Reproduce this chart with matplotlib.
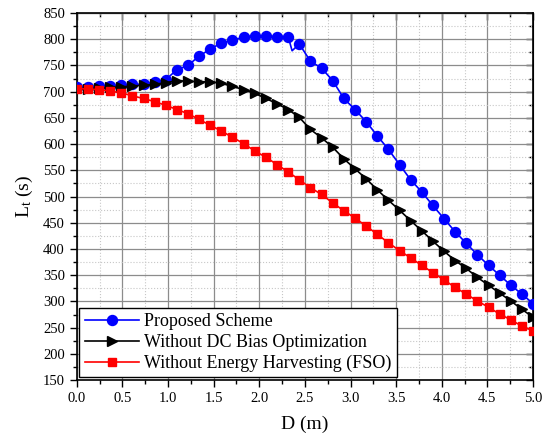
import matplotlib
matplotlib.use("Agg")
import matplotlib.pyplot as plt
from matplotlib.ticker import MultipleLocator

plt.rcParams["font.family"] = ["Liberation Serif", "DejaVu Serif"]
plt.rcParams["mathtext.fontset"] = "custom"
plt.rcParams["mathtext.rm"] = "Liberation Serif"
plt.rcParams["mathtext.it"] = "Liberation Serif:italic"

# distance D (m)
D = [0.000, 0.122, 0.244, 0.366, 0.488, 0.610, 0.732, 0.854, 0.976, 1.098,
     1.220, 1.341, 1.463, 1.585, 1.707, 1.829, 1.951, 2.073, 2.195, 2.317,
     2.439, 2.561, 2.683, 2.805, 2.927, 3.049, 3.171, 3.293, 3.415, 3.537,
     3.659, 3.780, 3.902, 4.024, 4.146, 4.268, 4.390, 4.512, 4.634, 4.756,
     4.878, 5.000]

proposed = [708, 709, 710, 711, 712, 714, 714, 718, 723, 742,
            750, 768, 781, 793, 798, 804, 807, 806, 805, 805,
            791, 758, 745, 721, 687, 666, 643, 616, 590, 561,
            532, 509, 483, 458, 433, 411, 389, 369, 350, 331,
            314, 296]
# unmarked kink in the proposed curve between 2.317 and 2.439
kink_D = 2.36
kink_val = 778

no_dc = [706, 706, 707, 708, 709, 711, 712, 714, 717, 721,
         720, 719, 719, 716, 710, 704, 697, 687, 677, 666,
         651, 628, 612, 594, 572, 553, 534, 513, 493, 474,
         454, 435, 415, 396, 378, 363, 346, 331, 316, 301,
         285, 270]

no_eh = [706, 705, 704, 701, 698, 692, 687, 681, 674, 666,
         658, 647, 636, 625, 613, 601, 587, 575, 561, 547,
         532, 517, 504, 488, 473, 459, 444, 428, 412, 397,
         383, 369, 355, 341, 327, 314, 301, 289, 276, 265,
         253, 244]

labels = ["Proposed Scheme", "Without DC Bias Optimization",
          "Without Energy Harvesting (FSO)"]

fig = plt.figure(figsize=(5.57, 4.41), dpi=100)
ax = fig.add_axes([0.1377, 0.138, 0.8193, 0.8325])

ax.grid(which="major", color="0.55", linestyle="-", linewidth=0.9)
ax.grid(which="minor", color="0.78", linestyle=":", linewidth=0.8)
ax.set_axisbelow(True)

# blue curve with the extra unmarked point
kink_i = 20
bx = D[:kink_i] + [kink_D] + D[kink_i:]
by = proposed[:kink_i] + [kink_val] + proposed[kink_i:]
marks = [i for i in range(len(bx)) if i != kink_i]

ax.plot(bx, by, color="#0000ff", marker="o", markersize=7.2, linewidth=1.2,
        markevery=marks, label=labels[0], zorder=3)
ax.plot(D, no_dc, color="black", marker=">", markersize=7.5, linewidth=1.2,
        label=labels[1], zorder=4)
ax.plot(D, no_eh, color="#ff0000", marker="s", markersize=6.3, linewidth=1.2,
        label=labels[2], zorder=5)

ax.set_xlim(0, 5)
ax.set_ylim(150, 850)
ax.xaxis.set_major_locator(MultipleLocator(0.5))
ax.xaxis.set_minor_locator(MultipleLocator(0.25))
ax.yaxis.set_major_locator(MultipleLocator(50))
ax.yaxis.set_minor_locator(MultipleLocator(25))
ax.xaxis.set_major_formatter(matplotlib.ticker.FormatStrFormatter("%.1f"))

ax.tick_params(which="both", direction="out", top=False, right=False,
               labelsize=10.5, width=1.0)
ax.tick_params(which="major", length=5)
ax.tick_params(which="minor", length=3)
# inward ticks on the top and right spines
ax2 = ax.secondary_xaxis("top")
ax2.xaxis.set_major_locator(MultipleLocator(0.5))
ax2.xaxis.set_minor_locator(MultipleLocator(0.25))
ax2.tick_params(which="both", direction="in", labeltop=False, width=1.0)
ax2.tick_params(which="major", length=5)
ax2.tick_params(which="minor", length=3)
ay2 = ax.secondary_yaxis("right")
ay2.yaxis.set_major_locator(MultipleLocator(50))
ay2.yaxis.set_minor_locator(MultipleLocator(25))
ay2.tick_params(which="both", direction="in", labelright=False, width=1.0)
ay2.tick_params(which="major", length=5)
ay2.tick_params(which="minor", length=3)

for sp in ax.spines.values():
    sp.set_linewidth(1.2)

ax.set_xlabel("D (m)", fontsize=14, labelpad=8)
ax.set_ylabel(r"L$_\mathrm{t}$ (s)", fontsize=14, labelpad=6)

leg = ax.legend(loc="lower left", fontsize=13, frameon=True, fancybox=False,
                edgecolor="black", framealpha=1, handlelength=3.0,
                borderaxespad=0.15, borderpad=0.3, labelspacing=0.2,
                handletextpad=0.3)
leg.get_frame().set_linewidth(1.0)

fig.savefig("out.png", dpi=100)
